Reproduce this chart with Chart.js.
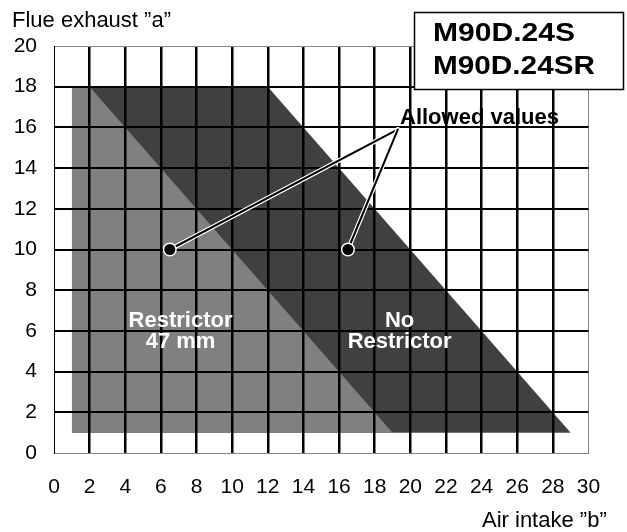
<!DOCTYPE html>
<html>
<head>
<meta charset="utf-8">
<script src="https://cdn.jsdelivr.net/npm/chart.js@4.4.1/dist/chart.umd.min.js"></script>
<style>
  html, body { margin: 0; padding: 0; background: #fff; }
  #wrap { width: 627px; height: 532px; }
</style>
</head>
<body>
<div id="wrap"><canvas id="c" width="627" height="532"></canvas></div>
<script>
// Axis ranges and tick spacing
const xRange = [0, 30];
const yRange = [0, 20];
const tickStep = 2;

// Upper boundaries of the two permitted regions (both filled down to the floor value)
const restrictorBoundary = [{x: 1, y: 18}, {x: 2, y: 18}, {x: 19, y: 1}];
const noRestrictorBoundary = [{x: 1, y: 18}, {x: 12, y: 18}, {x: 29, y: 1}];
const floorValue = 1;

// Leader lines: common origin and the two marked points
const leaderOrigin = {x: 19.3, y: 15.9};
const markedPoints = [{x: 6.5, y: 10}, {x: 16.5, y: 10}];

// Texts
const yTitle = 'Flue exhaust \u201Da\u201D';
const xTitle = 'Air intake \u201Db\u201D';
const modelNames = ['M90D.24S', 'M90D.24SR'];
const leaderText = 'Allowed values';
const regionLabels = [
  {x: 7.1, y: 6.0, lines: ['Restrictor', '47 mm']},
  {x: 19.4, y: 6.0, lines: ['No', 'Restrictor']}
];

const FONT = '"Liberation Sans", Arial, Helvetica, sans-serif';

const overlay = {
  id: 'overlay',
  afterDraw(chart) {
    const {ctx, scales: {x, y}} = chart;
    ctx.save();

    // leader lines (white casing, black core)
    const ox = x.getPixelForValue(leaderOrigin.x), oy = y.getPixelForValue(leaderOrigin.y);
    ctx.lineCap = 'round';
    markedPoints.forEach(p => {
      const px = x.getPixelForValue(p.x), py = y.getPixelForValue(p.y);
      ctx.strokeStyle = '#fff'; ctx.lineWidth = 4.5;
      ctx.beginPath(); ctx.moveTo(ox, oy); ctx.lineTo(px, py); ctx.stroke();
      ctx.strokeStyle = '#000'; ctx.lineWidth = 2;
      ctx.beginPath(); ctx.moveTo(ox, oy); ctx.lineTo(px, py); ctx.stroke();
    });
    markedPoints.forEach(p => {
      const px = x.getPixelForValue(p.x), py = y.getPixelForValue(p.y);
      ctx.fillStyle = '#fff';
      ctx.beginPath(); ctx.arc(px, py, 7, 0, Math.PI * 2); ctx.fill();
      ctx.fillStyle = '#000';
      ctx.beginPath(); ctx.arc(px, py, 5.5, 0, Math.PI * 2); ctx.fill();
    });

    // leader caption
    ctx.fillStyle = '#000';
    ctx.font = 'bold 22px ' + FONT;
    ctx.textAlign = 'left';
    ctx.textBaseline = 'alphabetic';
    ctx.fillText(leaderText, 400, 124);

    // region labels
    ctx.fillStyle = '#fff';
    ctx.textAlign = 'center';
    regionLabels.forEach(r => {
      const cx = x.getPixelForValue(r.x), cy = y.getPixelForValue(r.y);
      ctx.fillText(r.lines[0], cx, cy - 4);
      ctx.fillText(r.lines[1], cx, cy + 17);
    });

    // model box
    ctx.fillStyle = '#fff';
    ctx.fillRect(414.5, 12.5, 209, 77);
    ctx.strokeStyle = '#000'; ctx.lineWidth = 1.5;
    ctx.strokeRect(414.5, 12.5, 209, 77);
    ctx.fillStyle = '#000';
    ctx.font = 'bold 25px ' + FONT;
    ctx.textAlign = 'left';
    const widths = [142, 162];
    const baselines = [41, 74];
    modelNames.forEach((t, i) => {
      const w = ctx.measureText(t).width;
      ctx.save();
      ctx.translate(433, baselines[i]);
      ctx.scale(widths[i] / w, 1);
      ctx.fillText(t, 0, 0);
      ctx.restore();
    });

    // axis titles
    ctx.font = '22px ' + FONT;
    ctx.fillText(yTitle, 12, 27);
    ctx.fillText(xTitle, 482, 527);

    ctx.restore();
  }
};

new Chart(document.getElementById('c'), {
  type: 'line',
  data: {
    datasets: [
      {
        data: restrictorBoundary,
        backgroundColor: '#808080',
        borderWidth: 0,
        pointRadius: 0,
        fill: {value: floorValue},
        order: 0
      },
      {
        data: noRestrictorBoundary,
        backgroundColor: '#404040',
        borderWidth: 0,
        pointRadius: 0,
        fill: {value: floorValue},
        order: 1
      }
    ]
  },
  options: {
    responsive: false,
    animation: false,
    devicePixelRatio: 1,
    layout: {padding: {left: 0, top: 46, right: 38.5, bottom: 0}},
    plugins: {legend: {display: false}, tooltip: {enabled: false}, title: {display: false}},
    scales: {
      x: {
        type: 'linear',
        min: xRange[0], max: xRange[1],
        ticks: {stepSize: tickStep, color: '#000', font: {family: FONT, size: 21}, padding: 22, maxRotation: 0, autoSkip: false},
        grid: {
          z: 1,
          drawTicks: false,
          color: c => (c.tick && c.tick.value === xRange[1]) ? '#888' : '#000',
          lineWidth: c => (c.tick && (c.tick.value === xRange[0] || c.tick.value === xRange[1])) ? 1 : 2.5
        },
        border: {z: 1, color: '#777', width: 1},
        afterFit(s) { s.height = 79; }
      },
      y: {
        min: yRange[0], max: yRange[1],
        ticks: {stepSize: tickStep, color: '#000', font: {family: FONT, size: 21}, padding: 17},
        grid: {
          z: 1,
          drawTicks: false,
          color: c => (c.tick && (c.tick.value === yRange[1] || c.tick.value === yRange[0])) ? '#888' : '#000',
          lineWidth: c => (c.tick && (c.tick.value === yRange[1] || c.tick.value === yRange[0])) ? 1 : 2
        },
        border: {z: 1, color: '#000', width: 1},
        afterFit(s) { s.width = 54; }
      }
    }
  },
  plugins: [overlay]
});
</script>
</body>
</html>
